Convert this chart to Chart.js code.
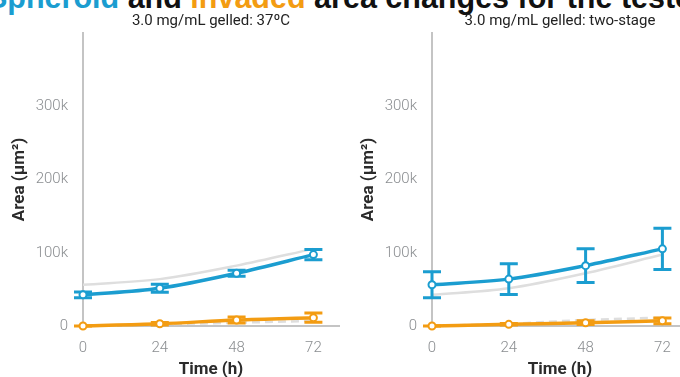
<!DOCTYPE html>
<html>
<head>
<meta charset="utf-8">
<script src="https://cdn.jsdelivr.net/npm/chart.js@4.4.1/dist/chart.umd.min.js"></script>
<style>
  html, body { margin: 0; padding: 0; background: #fff; }
  #wrap { position: relative; width: 680px; height: 377px; overflow: hidden; }
  #title {
    position: absolute; left: -13px; top: -18px;
    font: bold 30.5px "Liberation Sans", Arial, sans-serif; line-height: 30px;
    white-space: nowrap; color: #111;
  }
  #title .sph { color: #1b9dd0; }
  #title .inv { color: #f39c12; }
  canvas.panel { position: absolute; top: 0; }
</style>
</head>
<body>
<div id="wrap">
  <div id="title"><span class="sph">Spheroid</span> and <span class="inv">invaded</span> area changes for the tested conditions</div>
  <canvas id="c37" class="panel" width="349" height="377" style="left:0"></canvas>
  <canvas id="cTwo" class="panel" width="349" height="377" style="left:349px"></canvas>
</div>
<script>
// Time points (h) and tick positions
const hours = [0, 24, 48, 72];
const xTicks = [0, 24, 48, 72];
const yTicks = [0, 100000, 200000, 300000];

// 3.0 mg/mL gelled at 37 °C — mean area (µm²) and error
const spheroid37 = [42500, 51500, 72000, 97500];
const spheroid37Err = [4000, 5500, 4000, 7000];
const invaded37 = [0, 3000, 8200, 11400];
const invaded37Err = [0, 1800, 4000, 6400];

// 3.0 mg/mL gelled two-stage — mean area (µm²) and error
const spheroidTwo = [56300, 64000, 82400, 105300];
const spheroidTwoErr = [17900, 21000, 23000, 28000];
const invadedTwo = [0, 2300, 4500, 7000];
const invadedTwoErr = [0, 1000, 2500, 4000];

const BLUE = '#1b9dd0';
const ORANGE = '#f39c12';
const GREY = '#dedede';

const toPoints = vals => hours.map((h, i) => ({ x: h, y: vals[i] }));

// Vertical error bars with caps, drawn just before their own series
const errorBars = {
  id: 'errorBars',
  beforeDatasetDraw(chart, args) {
    const ds = chart.data.datasets[args.index];
    if (!ds.errors) return;
    const xs = chart.scales.x, ys = chart.scales.y, ctx = chart.ctx;
    ctx.save();
    ctx.strokeStyle = ds.borderColor;
    ctx.lineWidth = 3;
    ctx.lineCap = 'butt';
    ds.data.forEach((p, i) => {
      const px = xs.getPixelForValue(p.x);
      const hi = ys.getPixelForValue(p.y + ds.errors[i]);
      const lo = ys.getPixelForValue(p.y - ds.errors[i]);
      ctx.beginPath();
      ctx.moveTo(px, hi); ctx.lineTo(px, lo);
      ctx.moveTo(px - 9, hi); ctx.lineTo(px + 9, hi);
      ctx.moveTo(px - 9, lo); ctx.lineTo(px + 9, lo);
      ctx.stroke();
    });
    ctx.restore();
  }
};

function makePanel(id, subtitle, sph, sphErr, inv, invErr, otherSph, otherInv) {
  const colored = (label, vals, errs, color) => ({
    label, data: toPoints(vals), errors: errs,
    borderColor: color, backgroundColor: '#fff',
    borderWidth: 3.5, pointRadius: 3.5, pointBorderWidth: 2,
    pointBackgroundColor: '#fff', pointBorderColor: color,
    cubicInterpolationMode: 'monotone', clip: false
  });
  const ghost = (label, vals, dash) => ({
    label, data: toPoints(vals), borderColor: GREY, borderWidth: 2.5,
    borderDash: dash, pointRadius: 0, cubicInterpolationMode: 'monotone', clip: false
  });
  return new Chart(document.getElementById(id), {
    type: 'line',
    data: {
      datasets: [
        colored('Spheroid', sph, sphErr, BLUE),
        colored('Invaded', inv, invErr, ORANGE),
        ghost('Spheroid (other)', otherSph, []),
        ghost('Invaded (other)', otherInv, [8, 5])
      ]
    },
    options: {
      responsive: false,
      animation: false,
      layout: { padding: { left: 0, right: 10, top: 0, bottom: 0 } },
      plugins: {
        legend: { display: false },
        tooltip: { enabled: false },
        title: {
          display: true, text: subtitle, fullSize: false,
          color: '#222', font: { family: 'Roboto', size: 15, weight: 'normal', lineHeight: 1.2 },
          padding: { top: 12, bottom: 3 }
        }
      },
      scales: {
        x: {
          type: 'linear', min: 0, max: 80,
          afterBuildTicks: s => { s.ticks = xTicks.map(v => ({ value: v })); },
          afterFit: s => { s.height = 51; },
          grid: { display: false, drawTicks: false },
          border: { color: '#c4c4c4', width: 2 },
          ticks: { padding: 13, color: '#8a8d90', font: { family: 'Roboto', size: 15, weight: 300 } },
          title: {
            display: true, text: 'Time (h)', color: '#2b2b2b',
            font: { family: 'Roboto', size: 17, weight: 'bold', lineHeight: 1 },
            padding: { top: 0, bottom: -1 }
          }
        },
        y: {
          type: 'linear', min: 0, max: 400000,
          afterBuildTicks: s => { s.ticks = yTicks.map(v => ({ value: v })); },
          afterFit: s => { s.width = 83; },
          grid: { display: false, drawTicks: false },
          border: { color: '#c4c4c4', width: 2 },
          ticks: {
            padding: 15, color: '#8a8d90',
            font: { family: 'Roboto', size: 15, weight: 300 },
            callback: v => v === 0 ? '0' : (v / 1000) + 'k'
          },
          title: {
            display: true, text: 'Area (µm²)', color: '#2b2b2b',
            font: { family: 'Roboto', size: 17, weight: 'bold', lineHeight: 1.2 },
            padding: { top: 10, bottom: 0 }
          }
        }
      }
    },
    plugins: [errorBars]
  });
}

makePanel('c37', '3.0 mg/mL gelled: 37ºC',
  spheroid37, spheroid37Err, invaded37, invaded37Err, spheroidTwo, invadedTwo);
makePanel('cTwo', '3.0 mg/mL gelled: two-stage',
  spheroidTwo, spheroidTwoErr, invadedTwo, invadedTwoErr, spheroid37, invaded37);
</script>
</body>
</html>
